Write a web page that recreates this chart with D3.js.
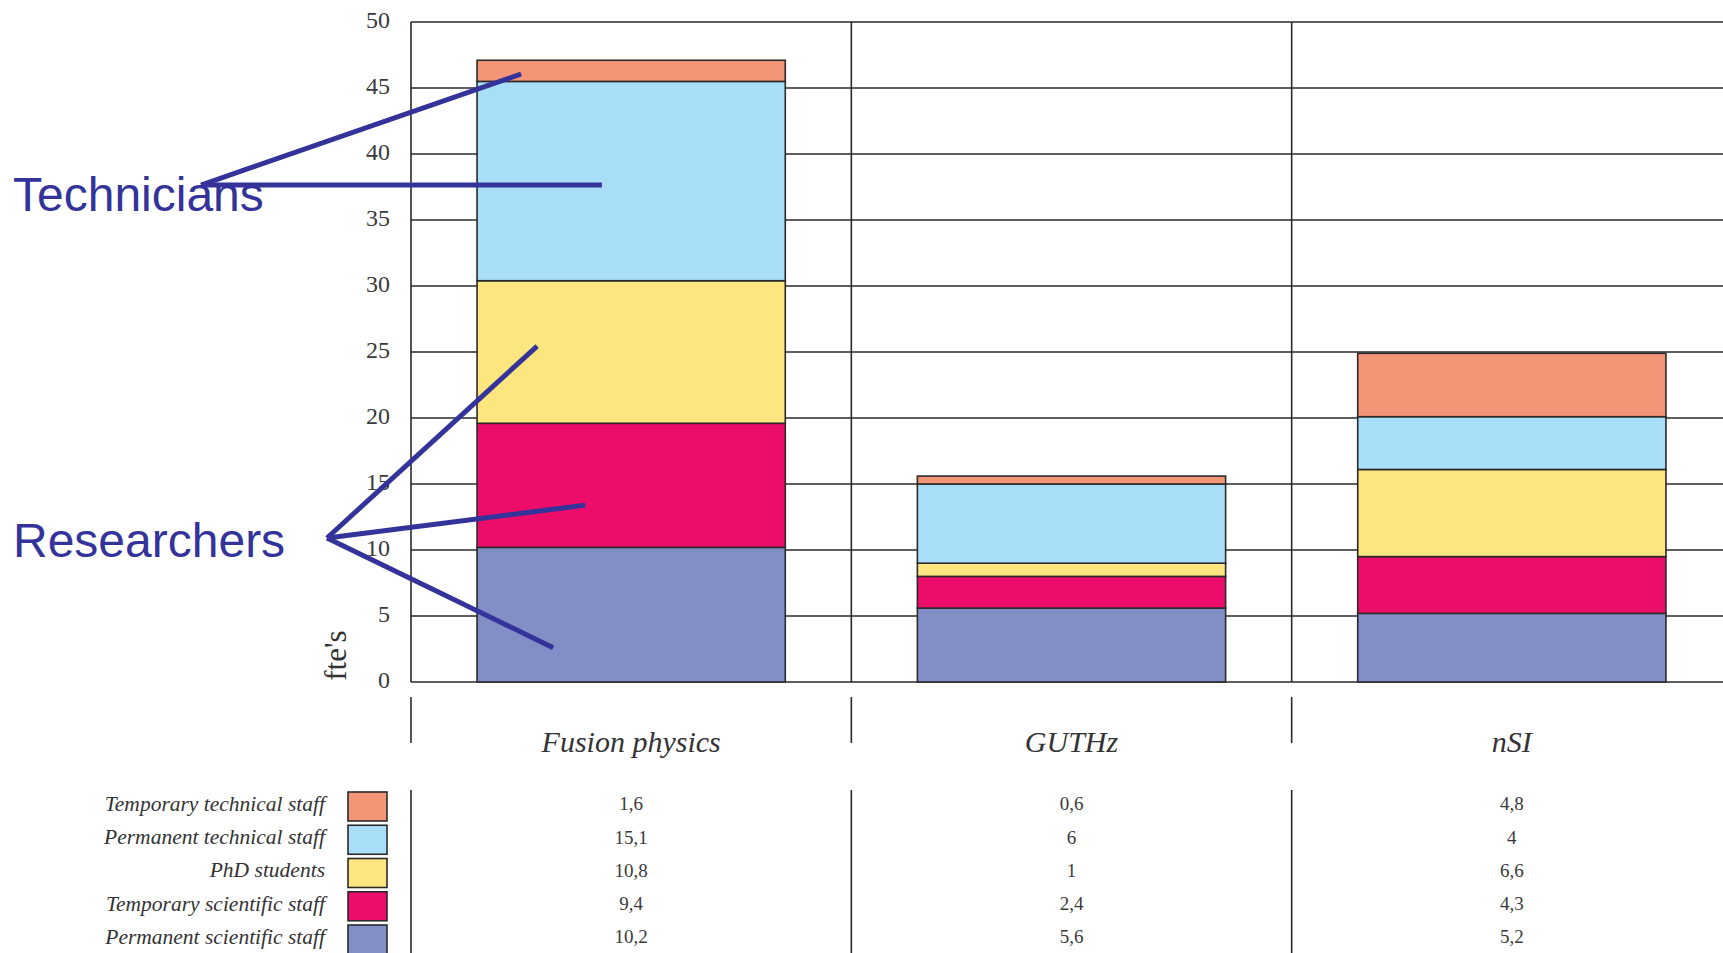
<!DOCTYPE html>
<html lang="en">

<head>
    <meta charset="UTF-8">
    <title>fte's per group</title>
    <style>
        * {
            margin: 0;
            padding: 0;
        }

        html,
        body {
            overflow: hidden;
            background: #fff;
        }
    </style>
</head>

<body>
    <div id="chart"></div>
    <script src="https://cdn.jsdelivr.net/npm/d3@7"></script>
    <script>
        // data
        const categories = ['Fusion physics', 'GUTHz', 'nSI']
        const seriesNames = ['Permanent scientific staff', 'Temporary scientific staff', 'PhD students', 'Permanent technical staff', 'Temporary technical staff']
        const permSci = [10.2, 5.6, 5.2]
        const tempSci = [9.4, 2.4, 4.3]
        const phd = [10.8, 1, 6.6]
        const permTech = [15.1, 6, 4]
        const tempTech = [1.6, 0.6, 4.8]
        const yTicks = [0, 5, 10, 15, 20, 25, 30, 35, 40, 45, 50]
        const colors = ['#828ec6', '#ec0c69', '#fde57f', '#a9def8', '#f39577']

        function drawChart() {
            const width = 1723
            const height = 953
            const ink = '#2a2a2a'
            const serif = '"Liberation Serif", "DejaVu Serif", serif'

            const values = [permSci, tempSci, phd, permTech, tempTech]
            const rows = categories.map((c, i) => {
                const r = { category: c }
                seriesNames.forEach((s, j) => r[s] = values[j][i])
                return r
            })
            const stacked = d3.stack().keys(seriesNames)(rows)

            const svg = d3.select('#chart')
                .append('svg')
                .attr('width', width)
                .attr('height', height)
                .style('background-color', '#fff')

            // the plot runs past the right edge of the window
            const x = d3.scaleBand()
                .domain(categories)
                .range([411, 1732])
                .paddingInner(0.3)
                .paddingOuter(0.15)
            const step = x.step()

            const y = d3.scaleLinear()
                .domain([0, 50])
                .range([682, 22])

            const color = d3.scaleOrdinal().domain(seriesNames).range(colors)

            // horizontal grid
            svg.append('g')
                .selectAll('line')
                .data(yTicks)
                .join('line')
                .attr('x1', x.range()[0])
                .attr('x2', width)
                .attr('y1', d => y(d))
                .attr('y2', d => y(d))
                .attr('stroke', ink)
                .attr('stroke-width', 1.6)

            // y tick labels
            svg.append('g')
                .selectAll('text')
                .data(yTicks)
                .join('text')
                .attr('x', 390)
                .attr('y', d => y(d))
                .text(d => d)
                .attr('fill', '#3a3a3a')
                .style('font-family', serif)
                .style('font-size', '24px')
                .style('text-anchor', 'end')
                .style('dominant-baseline', 'middle')

            svg.append('text')
                .attr('transform', `translate(335, ${y(2)}) rotate(-90)`)
                .text("fte's")
                .attr('fill', '#333')
                .style('font-family', serif)
                .style('font-size', '31px')
                .style('text-anchor', 'middle')
                .style('dominant-baseline', 'central')

            // vertical dividers: plot, label strip, table
            const dividers = d3.range(categories.length + 1).map(i => x.range()[0] + i * step)
            const spans = [[y(50), y(0)], [697, 743], [790, height]]
            spans.forEach(([y1, y2]) => {
                svg.append('g')
                    .selectAll('line')
                    .data(dividers)
                    .join('line')
                    .attr('x1', d => d)
                    .attr('x2', d => d)
                    .attr('y1', y1)
                    .attr('y2', y2)
                    .attr('stroke', ink)
                    .attr('stroke-width', 1.6)
            })

            // stacked bars
            svg.append('g')
                .selectAll('g')
                .data(stacked)
                .join('g')
                .attr('fill', d => color(d.key))
                .selectAll('rect')
                .data(d => d)
                .join('rect')
                .attr('x', d => x(d.data.category))
                .attr('y', d => y(d[1]))
                .attr('width', x.bandwidth())
                .attr('height', d => y(d[0]) - y(d[1]))
                .attr('stroke', ink)
                .attr('stroke-width', 1.6)

            // category labels
            svg.append('g')
                .selectAll('text')
                .data(categories)
                .join('text')
                .attr('x', d => x(d) + x.bandwidth() / 2)
                .attr('y', 752)
                .text(d => d)
                .attr('fill', '#333')
                .style('font-family', serif)
                .style('font-style', 'italic')
                .style('font-size', '30px')
                .style('text-anchor', 'middle')

            // table below: top row is the top of the stack
            const tableKeys = seriesNames.slice().reverse()
            const row = d3.scalePoint()
                .domain(tableKeys)
                .range([806, 939])

            const legend = svg.append('g')
            legend.selectAll('text')
                .data(tableKeys)
                .join('text')
                .attr('x', 325)
                .attr('y', d => row(d))
                .text(d => d)
                .attr('fill', '#333')
                .style('font-family', serif)
                .style('font-style', 'italic')
                .style('font-size', '21.5px')
                .style('text-anchor', 'end')
                .style('dominant-baseline', 'middle')

            legend.selectAll('rect')
                .data(tableKeys)
                .join('rect')
                .attr('x', 348)
                .attr('y', d => row(d) - 14)
                .attr('width', 39)
                .attr('height', 29)
                .attr('fill', d => color(d))
                .attr('stroke', ink)
                .attr('stroke-width', 1.6)

            const cells = []
            tableKeys.forEach(k => {
                const j = seriesNames.indexOf(k)
                categories.forEach((c, i) => cells.push({ key: k, category: c, value: values[j][i] }))
            })
            svg.append('g')
                .selectAll('text')
                .data(cells)
                .join('text')
                .attr('x', d => x(d.category) + x.bandwidth() / 2)
                .attr('y', d => row(d.key))
                .text(d => String(d.value).replace('.', ','))
                .attr('fill', '#3a3a3a')
                .style('font-family', serif)
                .style('font-size', '19px')
                .style('text-anchor', 'middle')
                .style('dominant-baseline', 'middle')

            // hand-drawn style callouts
            const annotations = [
                {
                    label: 'Technicians', tx: 13, ty: 211, from: [201, y(37.65)],
                    to: [{ f: 0.143, v: 46.06 }, { f: 0.405, v: 37.65 }]
                },
                {
                    label: 'Researchers', tx: 13, ty: 557, from: [327, 538],
                    to: [{ f: 0.195, v: 25.45 }, { f: 0.351, v: 13.4 }, { f: 0.247, v: 2.6 }]
                }
            ]
            const navy = '#33339a'
            const notes = svg.append('g')
            notes.selectAll('text')
                .data(annotations)
                .join('text')
                .attr('x', d => d.tx)
                .attr('y', d => d.ty)
                .text(d => d.label)
                .attr('fill', navy)
                .style('font-family', '"Liberation Sans", Arial, sans-serif')
                .style('font-size', '48px')

            annotations.forEach(a => {
                notes.append('g')
                    .selectAll('line')
                    .data(a.to)
                    .join('line')
                    .attr('x1', a.from[0])
                    .attr('y1', a.from[1])
                    .attr('x2', d => x(categories[0]) + d.f * x.bandwidth())
                    .attr('y2', d => y(d.v))
                    .attr('stroke', navy)
                    .attr('stroke-width', 5)
            })
        }

        drawChart()
    </script>
</body>

</html>
